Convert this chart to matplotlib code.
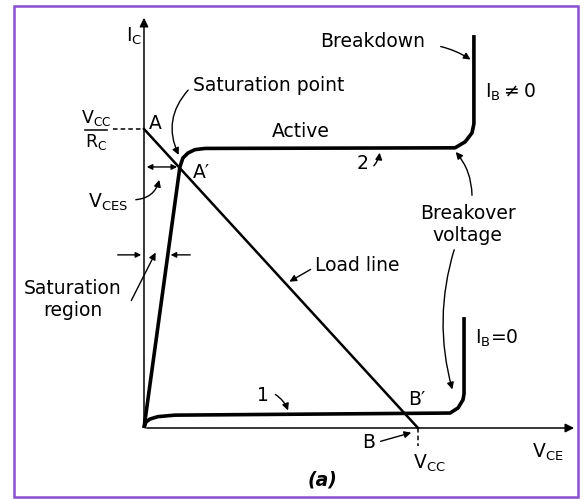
import matplotlib
matplotlib.use("Agg")
import matplotlib.pyplot as plt
from matplotlib.patches import Rectangle

# collector-emitter voltage (V) and collector current (mA)
vcc = 10.0
ic_sat = 10.0          # V_CC / R_C

# curve 2 : I_B != 0  (saturation rise, active region, breakdown)
vce_2 = [0, 1.31, 1.42, 1.61, 1.86, 2.23, 11.35, 11.72, 11.97, 12.04, 12.04]
ic_2 = [0, 8.73, 9.03, 9.20, 9.31, 9.35, 9.37, 9.57, 9.87, 10.17, 13.14]

# curve 1 : I_B = 0  (cut-off, then breakdown)
vce_1 = [0, 0.07, 0.22, 0.51, 1.13, 11.17, 11.46, 11.64, 11.68, 11.68]
ic_1 = [0, 0.20, 0.30, 0.38, 0.43, 0.50, 0.67, 0.94, 1.14, 3.71]

# load line end points A and B
load_v = [0, vcc]
load_i = [ic_sat, 0]

# operating points on the load line
a_prime = (1.31, 8.73)
vce_axis_end = 15.80
ic_axis_end = 13.81

fs = 13.5
fig = plt.figure(figsize=(5.84, 5.0), dpi=100)
ax = fig.add_axes([0, 0, 1, 1])
ax.set_xlim(-5.255, 16.058)
ax.set_ylim(-2.408, 14.314)
ax.axis("off")

# frame
ax.add_patch(Rectangle((0.024, 0.006), 0.966, 0.982, transform=ax.transAxes,
                       fill=False, edgecolor="#8a4fd0", lw=1.8))

# axes with arrows
ax.annotate("", xy=(0, ic_axis_end), xytext=(0, 0),
            arrowprops=dict(arrowstyle="-|>", lw=1.1, color="k", mutation_scale=13))
ax.annotate("", xy=(vce_axis_end, 0), xytext=(0, 0),
            arrowprops=dict(arrowstyle="-|>", lw=1.1, color="k", mutation_scale=13))

# characteristics and load line
ax.plot(vce_2, ic_2, color="k", lw=2.6, solid_capstyle="butt", solid_joinstyle="round")
ax.plot(vce_1, ic_1, color="k", lw=2.6, solid_capstyle="butt", solid_joinstyle="round")
ax.plot(load_v, load_i, color="k", lw=1.8)

# dashed guides
ax.plot([-1.13, 0], [ic_sat, ic_sat], color="k", lw=1.1, ls=(0, (3, 2)))
ax.plot([vcc, vcc], [0, -0.60], color="k", lw=1.1, ls=(0, (3, 2)))

# V_CES dimension
ax.annotate("", xy=(0, a_prime[1]), xytext=a_prime,
            arrowprops=dict(arrowstyle="<|-|>", lw=1.0, color="k", mutation_scale=8))

# saturation region dimension arrows
ax.annotate("", xy=(0, 5.79), xytext=(-1.06, 5.79),
            arrowprops=dict(arrowstyle="-|>", lw=1.0, color="k", mutation_scale=8))
ax.annotate("", xy=(0.87, 5.79), xytext=(1.79, 5.79),
            arrowprops=dict(arrowstyle="-|>", lw=1.0, color="k", mutation_scale=8))

arrow_kw = dict(arrowstyle="-|>", lw=1.0, color="k", mutation_scale=10)

def pointer(xy, xytext, rad=0.0):
    ax.annotate("", xy=xy, xytext=xytext,
                arrowprops=dict(connectionstyle=f"arc3,rad={rad}", **arrow_kw))

# labels
ax.text(-0.07, 12.91, r"I$_{\rm C}$", fontsize=fs, ha="right", va="baseline")
ax.text(14.16, -0.80, r"V$_{\rm CE}$", fontsize=fs, ha="left", va="center")

# V_CC / R_C written as a stacked fraction
ax.text(-1.75, 10.38, r"V$_{\rm CC}$", fontsize=fs - 1, ha="center", va="center")
ax.plot([-2.15, -1.35], [9.97, 9.97], color="k", lw=1.1)
ax.text(-1.75, 9.55, r"R$_{\rm C}$", fontsize=fs - 1, ha="center", va="center")

ax.text(0.18, 10.20, "A", fontsize=fs, ha="left", va="center")
ax.text(1.79, 8.56, "A\u2032", fontsize=fs, ha="left", va="center")
ax.text(9.64, 0.94, "B\u2032", fontsize=fs, ha="left", va="center")
ax.text(8.18, -0.50, "B", fontsize=fs, ha="center", va="center")
pointer((9.85, -0.13), (8.54, -0.47))
ax.text(9.82, -1.17, r"V$_{\rm CC}$", fontsize=fs, ha="left", va="center")

ax.text(1.79, 11.44, "Saturation point", fontsize=fs, ha="left", va="center")
pointer((1.31, 9.05), (1.68, 11.37), rad=0.35)

ax.text(4.67, 9.90, "Active", fontsize=fs, ha="left", va="center")
ax.text(7.96, 8.86, "2", fontsize=fs, ha="center", va="center")
pointer((8.61, 9.30), (8.32, 8.70), rad=0.2)

ax.text(6.42, 12.91, "Breakdown", fontsize=fs, ha="left", va="center")
pointer((12.0, 12.27), (10.73, 12.78), rad=-0.1)
ax.text(12.45, 11.24, r"I$_{\rm B}$$\neq$0", fontsize=fs, ha="left", va="center")

ax.text(11.82, 6.81, "Breakover\nvoltage", fontsize=fs, ha="center", va="center",
        linespacing=1.2)
pointer((11.31, 9.30), (11.97, 7.69), rad=0.2)
pointer((11.28, 1.20), (11.35, 6.05), rad=0.15)

ax.text(12.08, 3.01, r"I$_{\rm B}$=0", fontsize=fs, ha="left", va="center")

ax.text(6.24, 5.45, "Load line", fontsize=fs, ha="left", va="center")
pointer((5.22, 4.85), (6.17, 5.35))

ax.text(4.34, 1.10, "1", fontsize=fs, ha="center", va="center")
pointer((5.29, 0.50), (4.71, 1.17), rad=-0.2)

ax.text(-2.04, 7.56, r"V$_{\rm CES}$", fontsize=fs, ha="left", va="center")
pointer((0.58, 8.39), (-0.40, 7.63), rad=0.4)

ax.text(-2.59, 4.30, "Saturation\nregion", fontsize=fs, ha="center", va="center",
        linespacing=1.2)
pointer((0.47, 5.95), (-0.51, 4.18))

ax.text(6.53, -1.74, "(a)", fontsize=fs, ha="center", va="center",
        fontstyle="italic", fontweight="bold")

fig.savefig("out.png", dpi=100)
